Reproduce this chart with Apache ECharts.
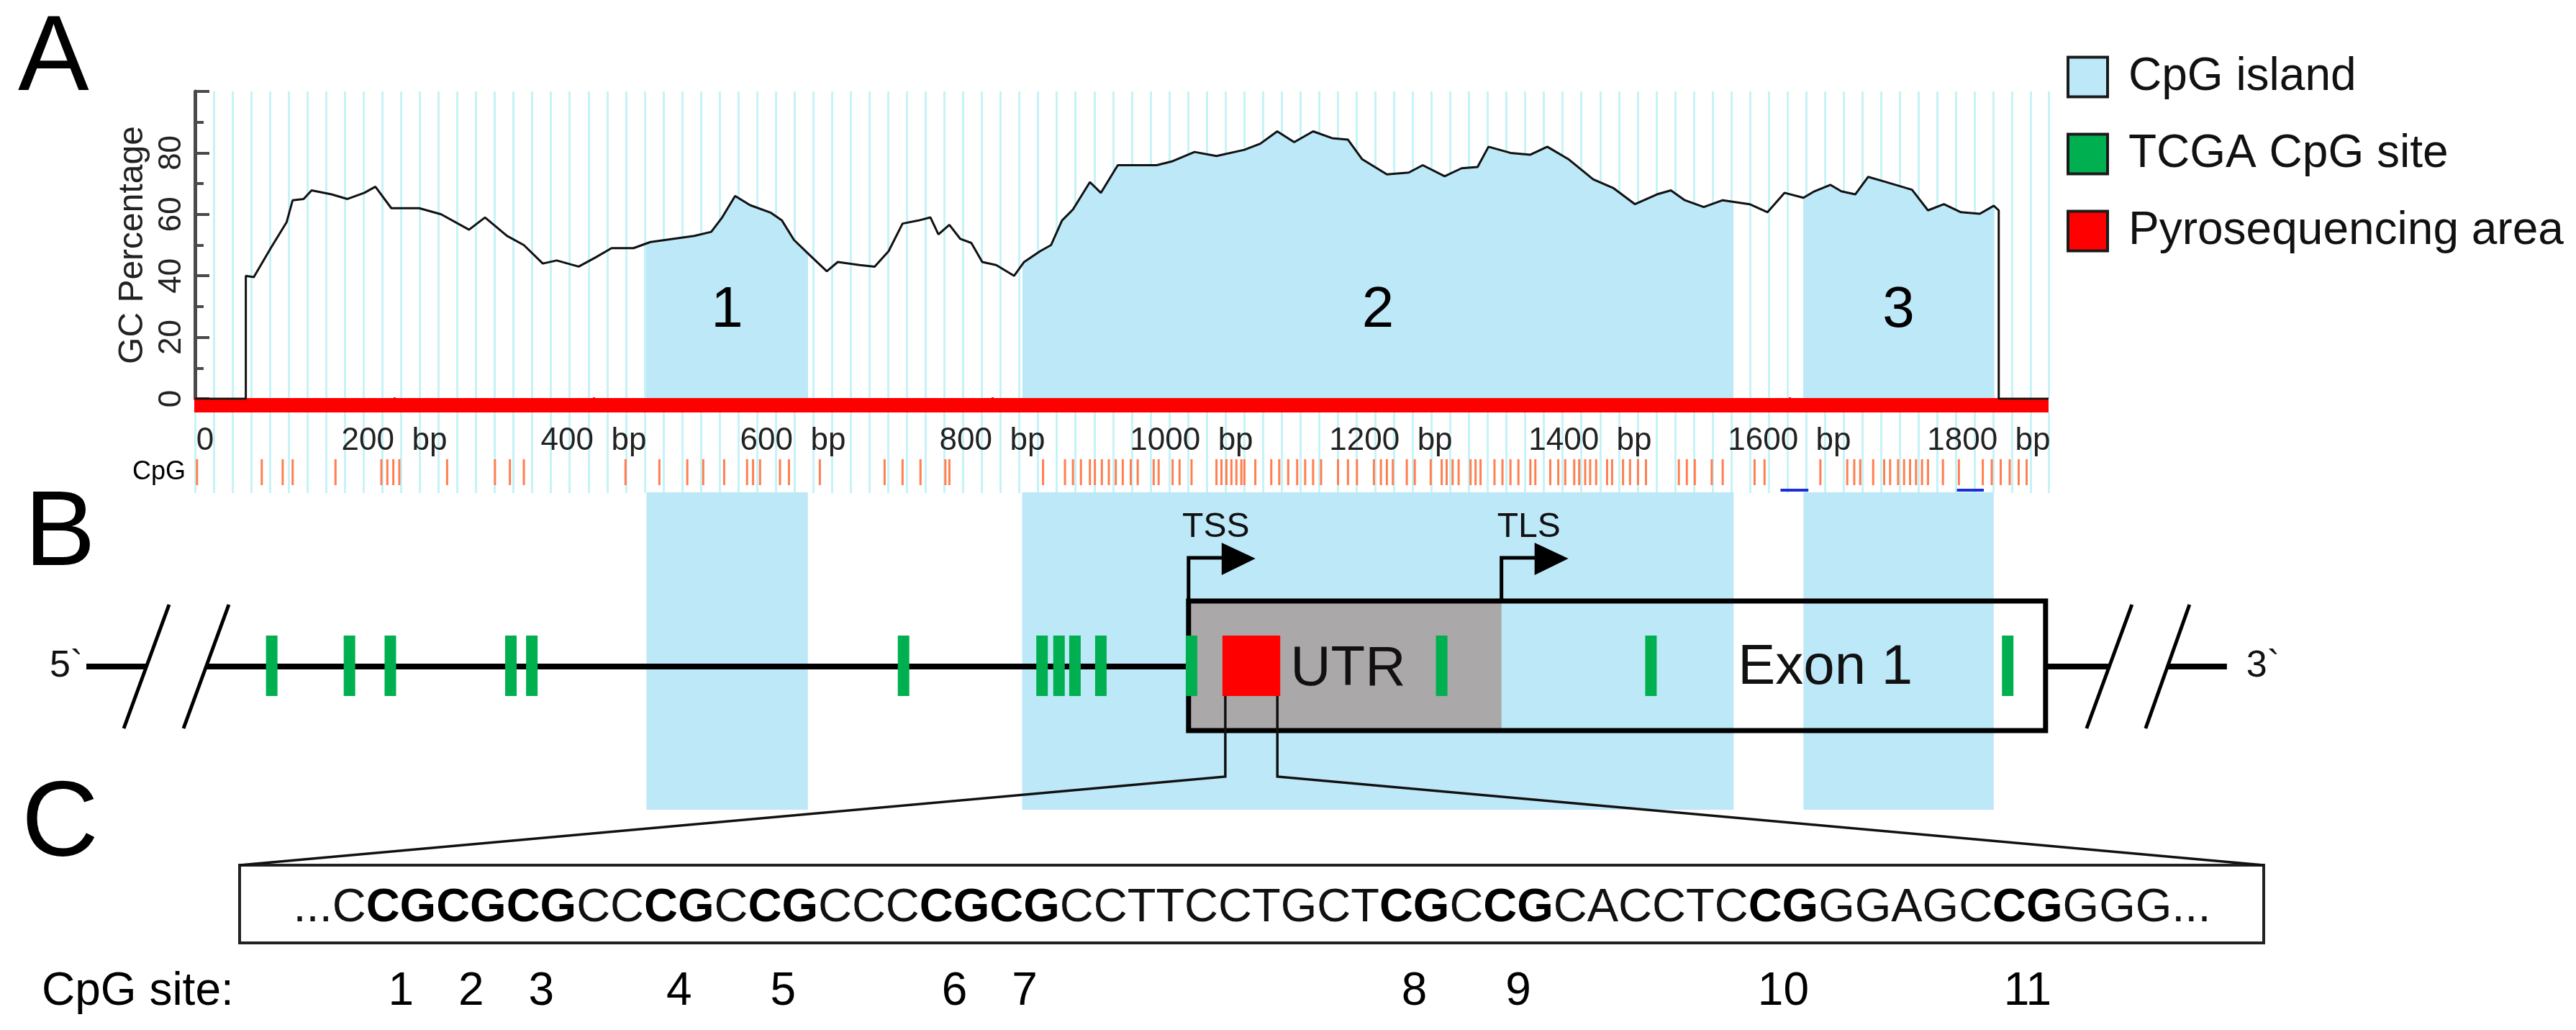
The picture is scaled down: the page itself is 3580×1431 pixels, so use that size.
<!DOCTYPE html>
<html>
<head>
<meta charset="utf-8">
<title>CpG islands, TCGA CpG sites and pyrosequencing area</title>
<script src="https://cdn.jsdelivr.net/npm/echarts@6/dist/echarts.min.js"></script>
<style>
html, body { margin: 0; padding: 0; background: #fff; }
#main { width: 3580px; height: 1431px; }
</style>
</head>
<body>
<div id="main"></div>
<script>
// ---- data ----
// length of the plotted sequence (bp)
var seqLength = 1860;

// GC percentage along the sequence, [bp, %]
var gcCurve = [
  [0, 0], [51, 0], [51, 40], [59, 39.6], [76, 49], [92, 57.5], [98, 64.6], [109, 65], [117, 67.8],
  [137, 66.5], [153, 65], [170, 67], [181, 69], [197, 62], [225, 62], [247, 60], [275, 55], [291, 59],
  [313, 53], [330, 50], [349, 44], [363, 45], [385, 43], [402, 46], [418, 49], [440, 49], [457, 51],
  [479, 52], [501, 53], [518, 54.3], [529, 59], [542, 66], [557, 63], [578, 60.5], [589, 58], [601, 51.7],
  [617, 46.7], [634, 41.5], [645, 44.5], [667, 43.5], [682, 43], [696, 48], [710, 57], [726, 58],
  [738, 59], [746, 53.5], [757, 56.6], [768, 52], [779, 50.7], [790, 44.5], [804, 43.5], [822, 40],
  [832, 44.5], [848, 48], [859, 50], [870, 58], [881, 61.6], [898, 70.5], [909, 67], [926, 76],
  [948, 76], [965, 76], [981, 77.3], [1003, 80.3], [1025, 79], [1053, 81], [1069, 83], [1086, 87],
  [1103, 83.5], [1122, 87], [1141, 84.8], [1157, 84.3], [1171, 78], [1196, 73], [1218, 73.6],
  [1232, 76], [1254, 72.4], [1271, 75], [1287, 75.4], [1298, 82], [1320, 80], [1340, 79.4],
  [1357, 82], [1378, 78], [1403, 71.4], [1423, 68.6], [1445, 63.3], [1467, 66.5], [1481, 67.8],
  [1495, 64.6], [1514, 62.4], [1533, 64.6], [1560, 63.3], [1578, 60.7], [1595, 67], [1614, 65.4],
  [1625, 67.5], [1641, 69.6], [1652, 67.5], [1666, 66.5], [1679, 72.2], [1695, 70.7], [1723, 68],
  [1739, 61.3], [1755, 63.3], [1772, 60.7], [1791, 60.2], [1805, 62.8], [1810, 61.3], [1810, 0], [1860, 0]
];

// CpG islands [start, end] in bp and their labels
var islands = [[453, 615], [830, 1544], [1614, 1805]];
var islandNames = ['1', '2', '3'];

// CpG dinucleotide positions (bp)
var cpgSites = [2, 67, 88, 98, 141, 187, 193, 199, 205, 253, 301, 316, 330, 432, 466, 494, 510, 531,
  554, 560, 567, 587, 596, 627, 692, 710, 728, 753, 757, 851, 873, 881, 889, 898, 903, 910, 917, 924,
  931, 939, 946, 962, 967, 981, 988, 1000, 1025, 1030, 1035, 1040, 1045, 1050, 1053, 1064, 1080, 1088,
  1097, 1106, 1114, 1122, 1130, 1147, 1157, 1166, 1183, 1190, 1196, 1202, 1216, 1224, 1240, 1251,
  1256, 1262, 1268, 1280, 1285, 1290, 1304, 1312, 1320, 1328, 1340, 1345, 1360, 1368, 1375, 1384,
  1389, 1395, 1400, 1406, 1417, 1422, 1433, 1440, 1448, 1456, 1489, 1497, 1505, 1522, 1533, 1565,
  1575, 1631, 1658, 1665, 1671, 1684, 1695, 1701, 1709, 1715, 1721, 1727, 1733, 1739, 1754, 1770,
  1794, 1803, 1812, 1821, 1830, 1838];

// primer marks under the CpG row [start, end] bp
var primerMarks = [[1591, 1619], [1768, 1795]];

// gene structure (bp)
var tcgaSites = [77, 155, 196, 317, 338, 711, 850, 867, 883, 909, 1000, 1251, 1461, 1819];
var pyroArea = [1031, 1089];
var tss = 997, tls = 1311, exonEnd = 1857;

// sequence of the pyrosequencing area, [text, isCpG]
var seqParts = [['...C', 0], ['CGCGCG', 1], ['CC', 0], ['CG', 1], ['C', 0], ['CG', 1], ['CCC', 0],
  ['CGCG', 1], ['CCTTCCTGCT', 0], ['CG', 1], ['C', 0], ['CG', 1], ['CACCTC', 0], ['CG', 1],
  ['GGAGC', 0], ['CG', 1], ['GGG...', 0]];

var legendNames = ['CpG island', 'TCGA CpG site', 'Pyrosequencing area'];

// ---- layout ----
var FONT = '"Liberation Sans", Arial, sans-serif';
var ISLAND = '#bde8f8';
var STRIPE = '#c6f3f8';
var PX0 = 271, PLOT_W = 2576;
var pxPerBp = PLOT_W / seqLength;

function band(top, height, spanBp) {
  return { left: PX0, top: top, width: (spanBp || seqLength) * pxPerBp, height: height, outerBoundsMode: 'none' };
}

var grids = [
  band(127, 427),        // 0 GC plot
  band(553, 20),         // 1 sequence bar
  band(553, 20, 1840),   // 2 small ticks, every 40 bp
  band(553, 20, 1800),   // 3 big ticks + bp labels
  band(573, 112),        // 4 stripes below the bar
  band(638, 36),         // 5 CpG row
  band(679, 4),          // 6 primer marks
  band(684, 441)         // 7 panel B
];

function hiddenX(grid, extra) {
  var ax = { gridIndex: grid, type: 'value', min: 0, max: seqLength, show: false };
  return Object.assign(ax, extra || {});
}
var redTick = function (len) {
  return { show: true, inside: false, length: len, lineStyle: { color: '#ff0000', width: 3 } };
};
var stripes = { show: true, lineStyle: { color: STRIPE, width: 3 } };

var xAxes = [
  { gridIndex: 0, type: 'value', min: 0, max: seqLength, interval: 18.8,
    axisLine: { show: false }, axisTick: { show: false }, axisLabel: { show: false }, splitLine: stripes },
  hiddenX(1),
  { gridIndex: 2, type: 'value', position: 'top', min: 0, max: 1840, interval: 40,
    axisLine: { show: false }, axisTick: redTick(14), axisLabel: { show: false }, splitLine: { show: false } },
  { gridIndex: 3, type: 'value', position: 'top', min: 0, max: 1800, interval: 200,
    axisLine: { show: false }, axisTick: redTick(21), axisLabel: { show: false }, splitLine: { show: false } },
  { gridIndex: 3, type: 'value', position: 'bottom', min: 0, max: 1800, interval: 200,
    axisLine: { show: false }, axisTick: { show: false }, splitLine: { show: false },
    axisLabel: {
      margin: 18, fontSize: 44, color: '#222', fontFamily: FONT,
      formatter: function (v) { return v === 0 ? '{z|0}' : v + '  bp'; },
      rich: { z: { fontSize: 44, fontFamily: FONT, color: '#222', padding: [0, 0, 0, 28] } }
    } },
  { gridIndex: 4, type: 'value', min: 0, max: seqLength, interval: 18.8,
    axisLine: { show: false }, axisTick: { show: false }, axisLabel: { show: false }, splitLine: stripes },
  hiddenX(5),
  hiddenX(6),
  hiddenX(7)
];

var yAxes = [
  { gridIndex: 0, type: 'value', min: 0, max: 100, interval: 20,
    axisLine: { show: true, lineStyle: { color: '#4a4a4a', width: 5 } },
    axisTick: { show: true, inside: true, length: 20, lineStyle: { color: '#4a4a4a', width: 4 } },
    minorTick: { show: true, splitNumber: 2, length: 12, lineStyle: { color: '#4a4a4a', width: 4 } },
    splitLine: { show: false },
    axisLabel: { rotate: 90, fontSize: 44, color: '#222', margin: 10, fontFamily: FONT, showMaxLabel: false },
    name: 'GC Percentage', nameLocation: 'middle', nameRotate: 90, nameGap: 62,
    nameTextStyle: { fontSize: 48, color: '#222', fontFamily: FONT } }
];
for (var g = 1; g <= 6; g++) {
  yAxes.push({ gridIndex: g, type: 'value', min: 0, max: 1, show: false });
}
// panel B: 1 unit = 1 px, 0 = gene line
yAxes.push({ gridIndex: 7, type: 'value', min: -199, max: 242, show: false });

// ---- render functions ----
function renderBar(params, api) {
  var x0 = api.coord([api.value(0), 0])[0];
  var x1 = api.coord([api.value(1), 0])[0];
  return { type: 'rect', shape: { x: x0, y: params.coordSys.y, width: x1 - x0, height: params.coordSys.height },
    style: { fill: api.visual('color') } };
}

function renderTick(params, api) {
  var x = api.coord([api.value(0), 0])[0];
  return { type: 'rect', shape: { x: x - 1.5, y: params.coordSys.y, width: 3, height: params.coordSys.height },
    style: { fill: api.visual('color') } };
}

function renderIslandName(params, api) {
  var x0 = api.coord([api.value(0), 0])[0];
  var x1 = api.coord([api.value(1), 0])[0];
  var y = api.coord([0, 28.6])[1];
  return { type: 'text', x: (x0 + x1) / 2, y: y,
    style: { text: islandNames[params.dataIndex], font: '80px ' + FONT, fill: '#000',
      align: 'center', verticalAlign: 'middle' } };
}

function renderSite(params, api) {
  var p = api.coord([api.value(0), 0]);
  return { type: 'rect', shape: { x: p[0] - 8, y: p[1] - 43, width: 16, height: 84 },
    style: { fill: api.visual('color') } };
}

function renderPyro(params, api) {
  var p0 = api.coord([api.value(0), 0]);
  var p1 = api.coord([api.value(1), 0]);
  return { type: 'rect', shape: { x: p0[0], y: p0[1] - 43, width: p1[0] - p0[0], height: 84 },
    style: { fill: api.visual('color') } };
}

function renderGene(params, api) {
  var y0 = api.coord([0, 0])[1];
  var xs = api.coord([api.value(0), 0])[0];
  var xt = api.coord([api.value(1), 0])[0];
  var xe = api.coord([api.value(2), 0])[0];
  var xp = api.coord([pyroArea[1], 0])[0];
  var left = params.coordSys.x;
  var boxTop = y0 - 91, boxBot = y0 + 89;
  var k = '#000';
  function seg(pts, w) {
    return { type: 'polyline', shape: { points: pts }, style: { stroke: k, lineWidth: w, fill: null } };
  }
  function label(txt, x, y, size, align) {
    return { type: 'text', x: x, y: y, style: { text: txt, font: size + 'px ' + FONT, fill: '#111',
      align: align || 'center', verticalAlign: 'middle' } };
  }
  function arrow(x, txt) {
    return [
      seg([[x, boxTop], [x, y0 - 151], [x + 48, y0 - 151]], 5),
      { type: 'polygon', shape: { points: [[x + 46, y0 - 172], [x + 93, y0 - 150], [x + 46, y0 - 127]] },
        style: { fill: k } },
      label(txt, x + 38, y0 - 193, 48)
    ];
  }
  var children = [
    // gene line with breaks
    seg([[left - 151, y0], [left - 68, y0]], 8),
    seg([[left + 15, y0], [xs, y0]], 8),
    seg([[left - 36, y0 - 86], [left - 99, y0 + 86]], 5),
    seg([[left + 47, y0 - 86], [left - 16, y0 + 86]], 5),
    seg([[xe, y0], [xe + 89, y0]], 8),
    seg([[xe + 170, y0], [xe + 252, y0]], 8),
    seg([[xe + 120, y0 - 86], [xe + 57, y0 + 86]], 5),
    seg([[xe + 200, y0 - 86], [xe + 139, y0 + 86]], 5),
    label('5`', left - 179, y0, 52),
    label('3`', xe + 302, y0, 52),
    // UTR and exon box
    { type: 'rect', shape: { x: xs, y: boxTop, width: xt - xs, height: boxBot - boxTop }, style: { fill: '#aaa8a8' } },
    { type: 'rect', shape: { x: xs, y: boxTop, width: xe - xs, height: boxBot - boxTop },
      style: { fill: null, stroke: k, lineWidth: 7 } },
    label('UTR', xp + 14, y0 + 4, 78, 'left'),
    label('Exon 1', (xt + xe) / 2 + 72, y0 + 2, 78)
  ];
  children = children.concat(arrow(xs, 'TSS'), arrow(xt, 'TLS'));
  return { type: 'group', children: children };
}

var option = {
  animation: false,
  backgroundColor: '#fff',
  textStyle: { fontFamily: FONT },
  grid: grids,
  xAxis: xAxes,
  yAxis: yAxes,
  visualMap: [{
    type: 'piecewise', show: false, seriesIndex: 0, dimension: 0,
    pieces: islands.map(function (r) { return { gte: r[0], lte: r[1], color: ISLAND }; }),
    outOfRange: { color: 'rgba(255,255,255,0)' }
  }],
  legend: {
    data: legendNames, orient: 'vertical', left: 2872, top: 75, padding: 0,
    icon: 'rect', itemWidth: 55, itemHeight: 55, itemGap: 43, selectedMode: false,
    itemStyle: { borderColor: '#1a1a1a', borderWidth: 4 },
    textStyle: { fontSize: 64, color: '#111', fontFamily: FONT, lineHeight: 55, padding: [0, 0, 0, 24] }
  },
  series: [
    { type: 'line', xAxisIndex: 0, yAxisIndex: 0, data: gcCurve, symbol: 'none', silent: true, z: 1,
      lineStyle: { width: 0 }, areaStyle: { opacity: 1 } },
    { type: 'line', xAxisIndex: 0, yAxisIndex: 0, data: gcCurve, symbol: 'none', silent: true, z: 5,
      lineStyle: { color: '#111', width: 3 }, itemStyle: { color: '#111' } },
    { type: 'custom', xAxisIndex: 0, yAxisIndex: 0, data: islands, renderItem: renderIslandName, silent: true, z: 6 },
    { type: 'custom', xAxisIndex: 1, yAxisIndex: 1, data: [[0, seqLength]], renderItem: renderBar, silent: true,
      itemStyle: { color: '#ff0000' }, z: 2 },
    { type: 'custom', xAxisIndex: 6, yAxisIndex: 5, data: cpgSites.map(function (v) { return [v]; }),
      renderItem: renderTick, silent: true, itemStyle: { color: '#ff7f50' } },
    { type: 'custom', xAxisIndex: 7, yAxisIndex: 6, data: primerMarks, renderItem: renderBar, silent: true,
      itemStyle: { color: '#1a2fd6' } },
    { name: 'CpG island', type: 'custom', xAxisIndex: 8, yAxisIndex: 7, data: islands, renderItem: renderBar,
      silent: true, z: 1, itemStyle: { color: ISLAND } },
    { type: 'custom', xAxisIndex: 8, yAxisIndex: 7, data: [[tss, tls, exonEnd]], renderItem: renderGene,
      silent: true, clip: false, z: 3 },
    { name: 'TCGA CpG site', type: 'custom', xAxisIndex: 8, yAxisIndex: 7, data: tcgaSites.map(function (v) { return [v]; }),
      renderItem: renderSite, silent: true, z: 4, itemStyle: { color: '#00b050' } },
    { name: 'Pyrosequencing area', type: 'custom', xAxisIndex: 8, yAxisIndex: 7, data: [pyroArea],
      renderItem: renderPyro, silent: true, z: 4, itemStyle: { color: '#ff0000' } }
  ]
};

var chart = echarts.init(document.getElementById('main'));
chart.setOption(option);

// ---- panel labels, zoom-in lines and panel C ----
var ctx = document.createElement('canvas').getContext('2d');
function textWidth(s, bold, size) {
  ctx.font = (bold ? 'bold ' : '') + size + 'px ' + FONT;
  return ctx.measureText(s).width;
}

var pL = chart.convertToPixel({ gridIndex: 7 }, [pyroArea[0], 0]);
var pR = chart.convertToPixel({ gridIndex: 7 }, [pyroArea[1], 0]);
var sqBottom = pL[1] + 41;
var seqBox = { x: 333, y: 1202, w: 2813, h: 108 };
var SEQ_SIZE = 65;

var elems = [];
function txt(s, x, y, size, align, weight) {
  elems.push({ type: 'text', x: x, y: y, z: 10,
    style: { text: s, font: (weight || '') + ' ' + size + 'px ' + FONT, fill: '#000',
      align: align || 'left', verticalAlign: 'middle' } });
}
txt('A', 25, 84, 148);
txt('B', 34, 744, 148);
txt('C', 30, 1148, 148);
txt('CpG', 258, 656, 36, 'right');

elems.push({ type: 'rect', z: 10, shape: { x: seqBox.x, y: seqBox.y, width: seqBox.w, height: seqBox.h },
  style: { fill: '#fff', stroke: '#222', lineWidth: 4 } });
elems.push({ type: 'polyline', z: 11, shape: { points: [[pL[0] + 4, sqBottom], [pL[0] + 4, 1079], [seqBox.x, seqBox.y]] },
  style: { stroke: '#111', lineWidth: 3.5, fill: null } });
elems.push({ type: 'polyline', z: 11, shape: { points: [[pR[0] - 4, sqBottom], [pR[0] - 4, 1079], [seqBox.x + seqBox.w, seqBox.y]] },
  style: { stroke: '#111', lineWidth: 3.5, fill: null } });

// sequence with bold CpGs and the site numbers under them
var total = 0;
seqParts.forEach(function (p) { total += textWidth(p[0], p[1], SEQ_SIZE); });
var sx = 1740 - total / 2;
var richText = seqParts.map(function (p) { return '{' + (p[1] ? 'b' : 'n') + '|' + p[0] + '}'; }).join('');
elems.push({ type: 'text', x: sx, y: 1262, z: 12,
  style: { text: richText, align: 'left', verticalAlign: 'middle',
    rich: {
      n: { fontSize: SEQ_SIZE, fontFamily: FONT, fill: '#111' },
      b: { fontSize: SEQ_SIZE, fontFamily: FONT, fontWeight: 'bold', fill: '#000' }
    } } });

var cx = sx, site = 0;
seqParts.forEach(function (p) {
  if (!p[1]) { cx += textWidth(p[0], false, SEQ_SIZE); return; }
  for (var i = 0; i < p[0].length; i += 2) {
    var w = textWidth(p[0].substr(i, 2), true, SEQ_SIZE);
    site += 1;
    txt(String(site), cx + w / 2, 1378, 64, 'center');
    cx += w;
  }
});
txt('CpG site:', 58, 1378, 64, 'left');

chart.setOption({ graphic: { elements: elems } });
</script>
</body>
</html>
